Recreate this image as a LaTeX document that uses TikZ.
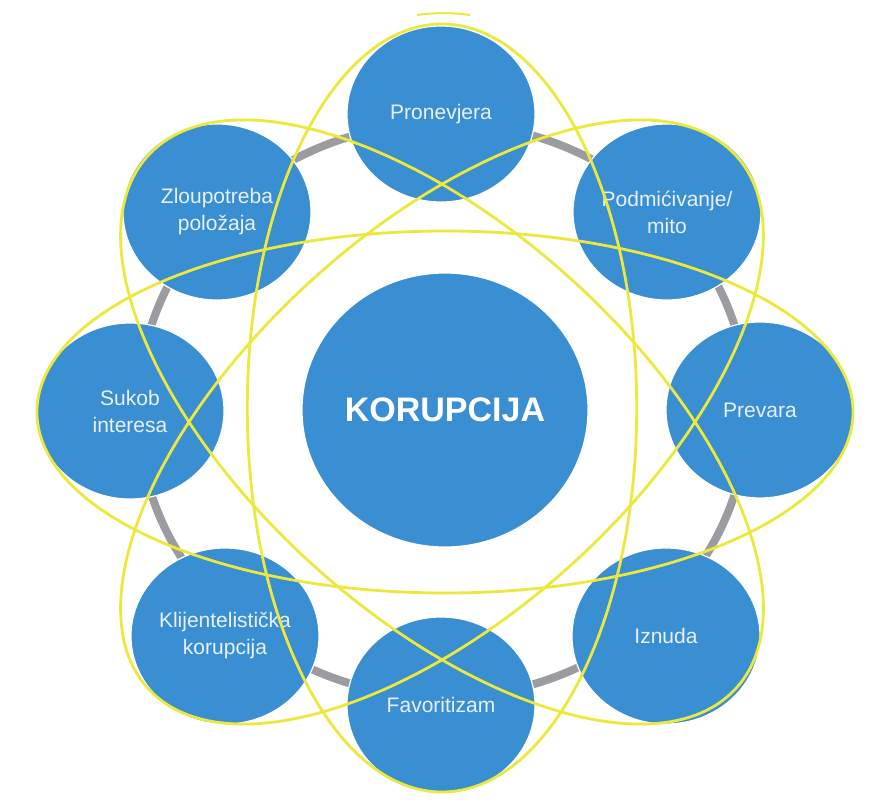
\documentclass[tikz,border=0pt]{standalone}
\usepackage{fontspec}
\setmainfont{Liberation Sans}
\usetikzlibrary{shapes.geometric}
\definecolor{bblue}{RGB}{58,143,210}
\definecolor{yel}{RGB}{236,232,60}
\definecolor{ringgray}{RGB}{155,155,160}
\definecolor{txt}{RGB}{232,240,250}
\begin{document}
\begin{tikzpicture}[x=1pt,y=-1pt,
  bub/.style={ellipse, fill=bblue, draw=white, line width=1.2pt, inner sep=0pt,
    minimum width=188pt, minimum height=176pt, text=txt,
    font=\fontsize{21}{27}\selectfont, align=center},
  yl/.style={draw=yel, line width=2.8pt}]
\path[use as bounding box, fill=white] (0,0) rectangle (889,801);
% gray ring behind the bubbles
\draw[ringgray, line width=8pt] (443,410) ellipse (305 and 287);
% bubbles
\node[bub, minimum width=286pt, minimum height=274pt, text=white,
  font=\bfseries\fontsize{34}{40}\selectfont] (kor) at (445,410) {KORUPCIJA};
\node[bub] (pron) at (441,114) {Pronevjera};
\node[bub] (podm) at (667,212) {Podmićivanje/\\mito};
\node[bub] (prev) at (760,410) {Prevara};
\node[bub] (izn) at (666,636) {Iznuda};
\node[bub] (fav) at (441,705) {Favoritizam};
\node[bub] (klij) at (225,636) {Klijentelistička\\korupcija};
\node[bub] (suk) at (130,411) {Sukob\\interesa};
\node[bub] (zlo) at (217,212) {Zloupotreba\\položaja};
% yellow ellipses on top
\draw[yl, shift={(442,408)}, xscale=1.064] (0,0) ellipse (183 and 384);
\draw[yl, shift={(445,412)}, xscale=1.064] (0,0) ellipse (383.5 and 181);
\draw[yl, shift={(442,422)}, xscale=1.064, rotate=45] (0,0) ellipse (384 and 187);
\draw[yl, shift={(442,422)}, xscale=1.064, rotate=-45] (0,0) ellipse (384 and 187);
\draw[draw=yel, line width=2pt] (417,15) .. controls (435,12.5) and (452,12.5) .. (470,15);
\end{tikzpicture}
\end{document}
